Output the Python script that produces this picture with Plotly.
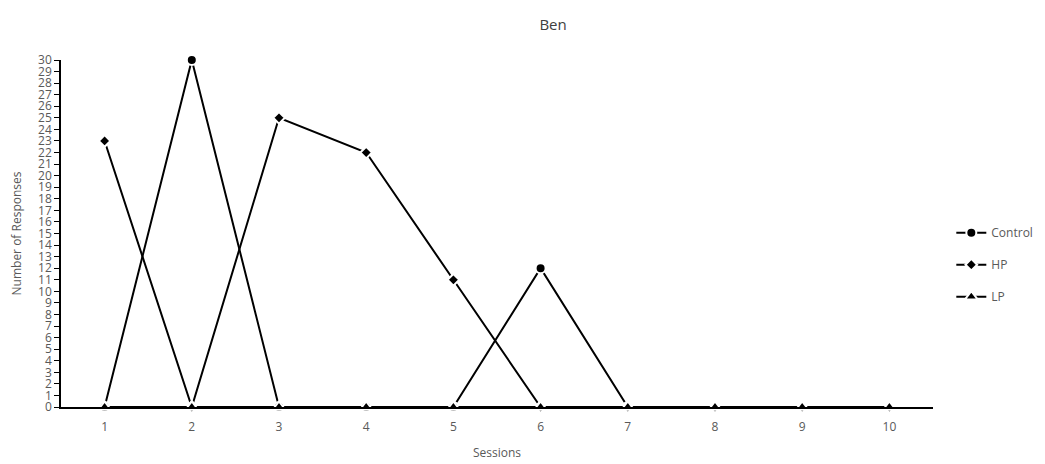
import plotly.graph_objects as go

sessions = [1, 2, 3, 4, 5, 6, 7, 8, 9, 10]
control = [0, 30, 0, 0, 0, 12, 0, 0, 0, 0]
hp = [23, 0, 25, 22, 11, 0, 0, 0, 0, 0]
lp = [0, 0, 0, 0, 0, 0, 0, 0, 0, 0]
y_ticks = list(range(0, 31))

font_family = "Open Sans, Liberation Sans, sans-serif"
grey = "#595959"

fig = go.Figure()
series = [
    ("Control", control, "circle", 10),
    ("HP", hp, "diamond", 9),
    ("LP", lp, "triangle-up", 11),
]
for name, vals, sym, size in series:
    fig.add_trace(go.Scatter(
        x=sessions, y=vals, name=name, mode="lines+markers",
        line=dict(color="black", width=2),
        marker=dict(symbol=sym, size=size, color="black",
                    line=dict(color="white", width=2)),
        cliponaxis=False, legendgroup=name,
    ))

fig.update_layout(
    width=1037, height=456,
    margin=dict(l=53, r=112, t=52, b=57, autoexpand=False),
    paper_bgcolor="white", plot_bgcolor="white",
    font=dict(family=font_family, color=grey, size=12),
    title=dict(text="Ben", x=0.5256, xanchor="center", y=0.963, yanchor="middle",
               font=dict(size=15, color="#404040")),
    showlegend=True,
    legend=dict(x=1.021, xanchor="left", y=0.41, yanchor="middle",
                font=dict(size=12, color=grey), tracegroupgap=13,
                bgcolor="rgba(0,0,0,0)", borderwidth=0),
    xaxis=dict(
        range=[0.5, 10.5], tickvals=sessions, ticktext=[str(s) for s in sessions],
        showline=True, linecolor="black", linewidth=1.5, showgrid=False,
        zeroline=False, ticks="", tickfont=dict(size=12, color=grey),
        automargin=False, ticklabelstandoff=8,
        title=dict(text="Sessions", font=dict(size=12, color=grey), standoff=14),
    ),
    yaxis=dict(
        range=[0, 30], tickvals=y_ticks, ticktext=[str(v) for v in y_ticks],
        showline=True, linecolor="black", linewidth=1.5, showgrid=False,
        zeroline=False, ticks="outside", ticklen=5, tickcolor="black",
        tickfont=dict(size=12, color=grey), automargin=False,
        title=dict(text="Number of Responses", font=dict(size=12, color=grey), standoff=20),
    ),
)

fig.write_html("out.html")
